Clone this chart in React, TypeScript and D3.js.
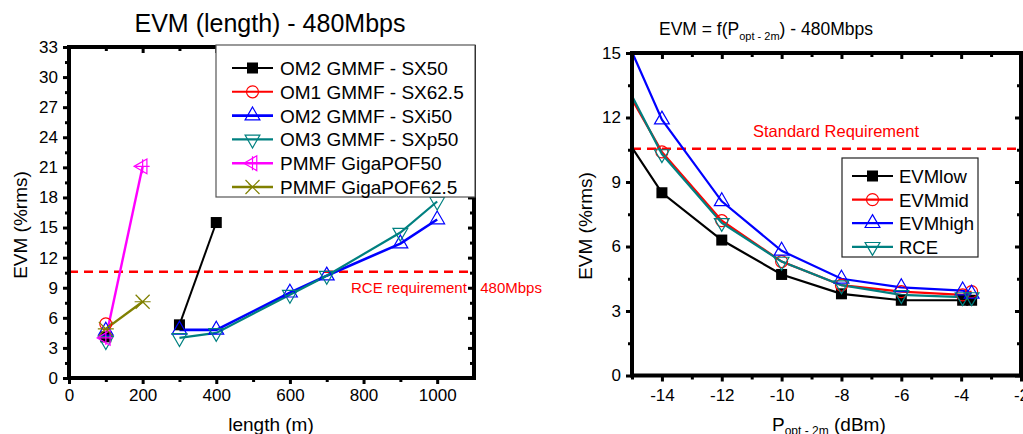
import React, { useEffect, useRef } from 'react';
import * as d3 from 'd3';

// ---- left chart: EVM vs fibre length ----
const sx50Len = [100, 200, 300, 400];
const sx50Evm = [4.1, null, 5.3, 15.5];
const sx625Len = [100];
const sx625Evm = [5.4];
const sxi50Len = [100, 200, 300, 400, 600, 700, 900, 1000];
const sxi50Evm = [4.7, null, 4.8, 4.8, 8.5, 10.2, 13.4, 15.8];
const sxp50Len = [100, 200, 300, 400, 600, 700, 900, 1000];
const sxp50Evm = [3.7, null, 4.0, 4.5, 8.3, 10.2, 14.5, 17.6];
const pof50Len = [100, 200];
const pof50Evm = [4.0, 21.1];
const pof625Len = [100, 200];
const pof625Evm = [4.9, 7.6];
const lenTicks = [0, 200, 400, 600, 800, 1000];
const evmTicksL = [0, 3, 6, 9, 12, 15, 18, 21, 24, 27, 30, 33];
const rceReq = 10.6;

// ---- right chart: EVM vs optical power ----
const powX = [-15, -14, -12, -10, -8, -6, -3.95, -3.65];
const evmLow = [10.6, 8.5, 6.3, 4.7, 3.8, 3.5, 3.5, 3.5];
const evmMid = [12.85, 10.4, 7.2, 5.3, 4.2, 3.9, 3.75, 3.9];
const evmHigh = [15.05, 11.9, 8.1, 5.8, 4.5, 4.1, 3.95, 3.8];
const evmRce = [13.0, 10.3, 7.1, 5.3, 4.2, 3.75, 3.65, 3.65];
const powTicks = [-14, -12, -10, -8, -6, -4, -2];
const evmTicksR = [0, 3, 6, 9, 12, 15];
const stdReq = 10.55;

const FONT = '"Liberation Sans", Arial, sans-serif';

type Sel = d3.Selection<any, unknown, null, undefined>;
type Lin = d3.ScaleLinear<number, number>;

function marker(g: Sel, kind: string, x: number, y: number, color: string) {
  const m = g.append('g').attr('transform', `translate(${x},${y})`);
  if (kind === 'square') {
    m.append('rect').attr('x', -5.5).attr('y', -5.5).attr('width', 11).attr('height', 11).attr('fill', color);
  } else if (kind === 'circle') {
    m.append('circle').attr('r', 6).attr('fill', 'none').attr('stroke', color).attr('stroke-width', 1.2);
  } else if (kind === 'up' || kind === 'down' || kind === 'left') {
    const rot = kind === 'up' ? 0 : kind === 'down' ? 180 : -90;
    m.append('path')
      .attr('d', d3.symbol(d3.symbolTriangle, 95)())
      .attr('transform', `rotate(${rot})`)
      .attr('fill', 'none').attr('stroke', color).attr('stroke-width', 1.2);
    if (kind === 'left') {
      m.append('path').attr('d', 'M-7,0H7M0,-7V7').attr('stroke', color).attr('stroke-width', 1.2);
    }
  } else if (kind === 'star') {
    m.append('path').attr('d', 'M-7,-7L7,7M-7,7L7,-7M-8,0H8M-4,-3.5L0,0L-4,3.5')
      .attr('stroke', color).attr('stroke-width', 1.2).attr('fill', 'none');
  }
}

// tick marks and labels (no axis line: the frame is drawn last)
function axes(g: Sel, x: Lin, y: Lin, xMinor: number[], yMinor: number[],
  xTicks: number[], yTicks: number[], xPad: number, yPad: number) {
  const [x0, x1] = x.range();
  const [y0, y1] = y.range();
  const fmt = (d: d3.NumberValue) => String(d);
  const blank = () => '';

  const ax = g.append('g').attr('transform', `translate(0,${y0})`)
    .call(d3.axisBottom(x).tickValues(xTicks).tickSize(6).tickPadding(xPad).tickFormat(fmt));
  const ay = g.append('g').attr('transform', `translate(${x0},0)`)
    .call(d3.axisLeft(y).tickValues(yTicks).tickSize(6).tickPadding(yPad).tickFormat(fmt));
  g.append('g').attr('transform', `translate(0,${y1})`)
    .call(d3.axisBottom(x).tickValues(xTicks).tickSize(6).tickFormat(blank));
  g.append('g').attr('transform', `translate(${x1},0)`)
    .call(d3.axisLeft(y).tickValues(yTicks).tickSize(6).tickFormat(blank));
  g.append('g').attr('transform', `translate(0,${y0})`)
    .call(d3.axisBottom(x).tickValues(xMinor).tickSize(4).tickFormat(blank));
  g.append('g').attr('transform', `translate(0,${y1})`)
    .call(d3.axisBottom(x).tickValues(xMinor).tickSize(4).tickFormat(blank));
  g.append('g').attr('transform', `translate(${x0},0)`)
    .call(d3.axisLeft(y).tickValues(yMinor).tickSize(4).tickFormat(blank));
  g.append('g').attr('transform', `translate(${x1},0)`)
    .call(d3.axisLeft(y).tickValues(yMinor).tickSize(4).tickFormat(blank));

  g.selectAll('.domain').remove();
  g.selectAll('.tick line').attr('stroke', '#000').attr('stroke-width', 3);
  [ax, ay].forEach(a => a.selectAll('text').attr('font-size', 17).attr('font-family', FONT).attr('fill', '#000'));
}

function frame(svg: Sel, x: Lin, y: Lin) {
  const [x0, x1] = x.range();
  const [y0, y1] = y.range();
  svg.append('rect').attr('x', x0).attr('y', y1).attr('width', x1 - x0).attr('height', y0 - y1)
    .attr('fill', 'none').attr('stroke', '#000').attr('stroke-width', 4);
}

const App: React.FC = () => {
  const svgRef = useRef<SVGSVGElement>(null);

  useEffect(() => {
    if (!svgRef.current) return;
    const svg = d3.select(svgRef.current) as unknown as Sel;
    svg.selectAll('*').remove();

    const xL = d3.scaleLinear().domain([0, 1100]).range([69, 474]);
    const yL = d3.scaleLinear().domain([0, 33]).range([378, 47]);
    const xR = d3.scaleLinear().domain([-15, -2]).range([632, 1021]);
    const yR = d3.scaleLinear().domain([0, 15]).range([375.5, 53]);

    // ================= left chart =================
    const gL = svg.append('g');
    axes(gL, xL, yL, d3.range(100, 1100, 200), d3.range(1.5, 33, 3), lenTicks, evmTicksL, 5, 5);

    gL.append('line').attr('x1', xL(0)).attr('x2', xL(1100)).attr('y1', yL(rceReq)).attr('y2', yL(rceReq))
      .attr('stroke', '#ff0000').attr('stroke-width', 2.5).attr('stroke-dasharray', '9 6');
    gL.append('text').attr('x', 351).attr('y', 293).attr('fill', '#ff0000')
      .attr('font-size', 15).attr('font-family', FONT).text('RCE requirement - 480Mbps');

    const seriesL = [
      { name: 'OM2 GMMF - SX50', xs: sx50Len, ys: sx50Evm, color: '#000000', kind: 'square', w: 2 },
      { name: 'OM1 GMMF - SX62.5', xs: sx625Len, ys: sx625Evm, color: '#ff0000', kind: 'circle', w: 2 },
      { name: 'OM2 GMMF - SXi50', xs: sxi50Len, ys: sxi50Evm, color: '#0000ff', kind: 'up', w: 2.6 },
      { name: 'OM3 GMMF - SXp50', xs: sxp50Len, ys: sxp50Evm, color: '#008080', kind: 'down', w: 2.2 },
      { name: 'PMMF GigaPOF50', xs: pof50Len, ys: pof50Evm, color: '#ff00ff', kind: 'left', w: 2.4 },
      { name: 'PMMF GigaPOF62.5', xs: pof625Len, ys: pof625Evm, color: '#808000', kind: 'star', w: 2.4 },
    ];

    seriesL.forEach(s => {
      const pts = s.xs.map((x, i) => ({ x, y: s.ys[i] }));
      const line = d3.line<{ x: number; y: number | null }>()
        .defined(d => d.y !== null)
        .x(d => xL(d.x)).y(d => yL(d.y as number));
      gL.append('path').datum(pts).attr('d', line).attr('fill', 'none')
        .attr('stroke', s.color).attr('stroke-width', s.w);
    });
    seriesL.forEach(s => {
      s.xs.forEach((x, i) => {
        const v = s.ys[i];
        if (v !== null) marker(gL, s.kind, xL(x), yL(v), s.color);
      });
    });

    gL.append('text').attr('x', 270).attr('y', 32).attr('text-anchor', 'middle')
      .attr('font-size', 25).attr('font-family', FONT).text('EVM (length) - 480Mbps');
    gL.append('text').attr('x', 271).attr('y', 431).attr('text-anchor', 'middle')
      .attr('font-size', 19).attr('font-family', FONT).text('length (m)');
    gL.append('text').attr('transform', 'translate(27,225) rotate(-90)').attr('text-anchor', 'middle')
      .attr('font-size', 19).attr('font-family', FONT).text('EVM (%rms)');

    // ================= right chart =================
    const gR = svg.append('g');
    axes(gR, xR, yR, d3.range(-15, -2, 2), d3.range(1.5, 15, 3), powTicks, evmTicksR, 7, 5);

    gR.append('line').attr('x1', xR(-15)).attr('x2', xR(-2)).attr('y1', yR(stdReq)).attr('y2', yR(stdReq))
      .attr('stroke', '#ff0000').attr('stroke-width', 2.5).attr('stroke-dasharray', '9 6');
    gR.append('text').attr('x', 836).attr('y', 137).attr('text-anchor', 'middle').attr('fill', '#ff0000')
      .attr('font-size', 16.5).attr('font-family', FONT).text('Standard Requirement');

    const seriesR = [
      { name: 'EVMlow', ys: evmLow, color: '#000000', kind: 'square' },
      { name: 'EVMmid', ys: evmMid, color: '#ff0000', kind: 'circle' },
      { name: 'EVMhigh', ys: evmHigh, color: '#0000ff', kind: 'up' },
      { name: 'RCE', ys: evmRce, color: '#008080', kind: 'down' },
    ];

    // lines start at the left edge; keep them inside the plot
    const plotR = gR.append('svg').attr('x', 632).attr('y', 53).attr('width', 389).attr('height', 323)
      .attr('viewBox', '632 53 389 323').attr('overflow', 'hidden');
    seriesR.forEach(s => {
      const line = d3.line<number>().x((_, i) => xR(powX[i])).y(d => yR(d));
      plotR.append('path').datum(s.ys).attr('d', line).attr('fill', 'none')
        .attr('stroke', s.color).attr('stroke-width', 2.2);
    });
    seriesR.forEach(s => {
      s.ys.forEach((v, i) => {
        if (i > 0) marker(gR, s.kind, xR(powX[i]), yR(v), s.color);
      });
    });

    const tR = gR.append('text').attr('x', 659).attr('y', 35).attr('font-size', 17.5).attr('font-family', FONT);
    tR.append('tspan').text('EVM = f(P');
    tR.append('tspan').attr('font-size', 11).attr('dy', 5).text('opt - 2m');
    tR.append('tspan').attr('dy', -5).text(') - 480Mbps');

    const xlR = gR.append('text').attr('x', 772).attr('y', 431).attr('font-size', 19).attr('font-family', FONT);
    xlR.append('tspan').text('P');
    xlR.append('tspan').attr('font-size', 12).attr('dy', 4).text('opt - 2m');
    xlR.append('tspan').attr('dy', -4).text(' (dBm)');

    gR.append('text').attr('transform', 'translate(592,226) rotate(-90)').attr('text-anchor', 'middle')
      .attr('font-size', 19).attr('font-family', FONT).text('EVM (%rms)');

    // frames on top of the data
    frame(svg, xL, yL);
    frame(svg, xR, yR);

    // legends drawn last (the left one sits over the top frame edge)
    const legL = svg.append('g');
    legL.append('rect').attr('x', 216).attr('y', 45).attr('width', 259).attr('height', 152)
      .attr('fill', '#fff').attr('stroke', '#555').attr('stroke-width', 1.2);
    seriesL.forEach((s, i) => {
      const cy = 68 + i * 23.8;
      legL.append('line').attr('x1', 232).attr('x2', 273).attr('y1', cy).attr('y2', cy)
        .attr('stroke', s.color).attr('stroke-width', s.w);
      marker(legL, s.kind, 252.5, cy, s.color);
      legL.append('text').attr('x', 280).attr('y', cy + 7).attr('font-size', 19).attr('font-family', FONT)
        .attr('fill', '#000').text(s.name);
    });

    const legR = svg.append('g');
    legR.append('rect').attr('x', 842).attr('y', 158).attr('width', 136).attr('height', 99)
      .attr('fill', '#fff').attr('stroke', '#222').attr('stroke-width', 1.2);
    seriesR.forEach((s, i) => {
      const cy = 176 + i * 23.6;
      legR.append('line').attr('x1', 852).attr('x2', 893).attr('y1', cy).attr('y2', cy)
        .attr('stroke', s.color).attr('stroke-width', 2.2);
      marker(legR, s.kind, 872.5, cy, s.color);
      legR.append('text').attr('x', 899).attr('y', cy + 7).attr('font-size', 18.5).attr('font-family', FONT)
        .attr('fill', '#000').text(s.name);
    });
  }, []);

  return (
    <svg ref={svgRef} width={1023} height={434}
      style={{ position: 'absolute', left: 0, top: 0, background: '#fff' }} />
  );
};

export default App;
